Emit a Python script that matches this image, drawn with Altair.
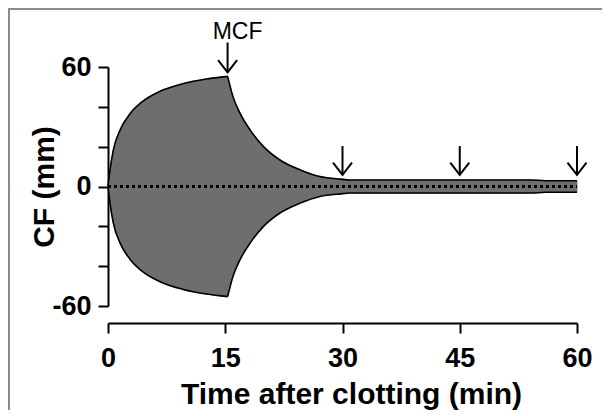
import altair as alt
import pandas as pd

# ---- data ----
rise_time = [0, 0.26, 0.68, 1.54, 2.81, 4.52, 6.65, 9.63, 12.6, 15.3]
rise_amp = [0, 8.3, 18.3, 28.3, 36.5, 43.0, 47.8, 51.7, 54.0, 55.3]
fall_time = [15.3, 16.0, 16.9, 18.2, 19.9, 22.0, 24.6, 27.1, 29.7, 31.0, 40.0, 54.0, 56.0, 60.0]
fall_amp = [55.3, 45.0, 36.7, 28.3, 20.0, 13.3, 8.3, 5.0, 3.7, 3.3, 3.3, 3.3, 2.9, 2.9]

arrow_time = [15.3, 30, 45, 60]
arrow_tip = [57.3, 5.8, 5.8, 5.8]
arrow_top = [72.3, 20.3, 20.3, 20.3]

label_text = ["MCF"]
label_time = [15.3]
label_v = [74.3]

x_ticks = [0, 15, 30, 45, 60]
y_ticks = [-60, -40, -20, 0, 20, 40, 60]

FONT = "Liberation Sans"

# ---- tables ----
area_rows, line_rows = [], []
for seg, (ts, vs) in enumerate([(rise_time, rise_amp), (fall_time, fall_amp)]):
    for t, v in zip(ts, vs):
        area_rows.append({"t": t, "v": v, "v2": -v, "seg": seg})
        line_rows.append({"t": t, "v": v, "seg": f"u{seg}"})
        line_rows.append({"t": t, "v": -v, "seg": f"l{seg}"})
area_df = pd.DataFrame(area_rows)
line_df = pd.DataFrame(line_rows)
zero_df = pd.DataFrame({"t": [x_ticks[0]], "t2": [x_ticks[-1]], "v": [0]})
arrow_df = pd.DataFrame({"t": arrow_time, "v": arrow_tip, "v2": arrow_top})
label_df = pd.DataFrame({"t": label_time, "v": label_v, "txt": label_text})
frame_df = pd.DataFrame({"a": [0]})

x_axis = alt.Axis(
    values=x_ticks, title="Time after clotting (min)", offset=17, grid=False,
    tickSize=10, tickWidth=2, tickColor="black", domainWidth=2, domainColor="black",
    labelFont=FONT, labelFontWeight="bold", labelFontSize=27, labelColor="black",
    labelPadding=12, labelFlush=False, labelOverlap=False,
    titleFont=FONT, titleFontWeight="bold", titleFontSize=30, titleColor="black",
    titleX=243, titleY=80, titleBaseline="alphabetic", titleAlign="center",
)
y_axis = alt.Axis(
    values=y_ticks, title="CF (mm)", grid=False,
    labelExpr="abs(datum.value) % 60 == 0 ? '' + datum.value : ''",
    tickSize=10, tickWidth=2, tickColor="black", domainWidth=2, domainColor="black",
    labelFont=FONT, labelFontWeight="bold", labelFontSize=27, labelColor="black",
    labelPadding=7, labelOverlap=False,
    titleFont=FONT, titleFontWeight="bold", titleFontSize=30, titleColor="black",
    titleX=-55, titleY=119.5, titleAngle=270, titleBaseline="alphabetic", titleAlign="center",
)
xs = alt.Scale(domain=[0, 60], nice=False)
ys = alt.Scale(domain=[-60, 60], nice=False)
X = alt.X("t:Q", scale=xs, axis=x_axis, title="Time after clotting (min)")
Y = alt.Y("v:Q", scale=ys, axis=y_axis, title="CF (mm)")

area = alt.Chart(area_df).mark_area(
    color="#6e6e6e", stroke="#6e6e6e", strokeWidth=0.8, interpolate="monotone"
).encode(x=X, y=Y, y2="v2:Q", detail="seg:N")

outline = alt.Chart(line_df).mark_line(
    color="black", strokeWidth=1.6, interpolate="monotone"
).encode(x=X, y=Y, detail="seg:N")

zero = alt.Chart(zero_df).mark_rule(
    color="black", strokeWidth=3, strokeDash=[3, 3]
).encode(x=X, x2="t2:Q", y=Y)

shafts = alt.Chart(arrow_df).mark_rule(color="black", strokeWidth=2).encode(
    x=X, y=Y, y2="v2:Q"
)
heads = alt.Chart(arrow_df).mark_point(
    shape="M-1,-1.3L0,0L1,-1.3", size=361, filled=False, stroke="black",
    strokeWidth=2, opacity=1
).encode(x=X, y=Y)

label = alt.Chart(label_df).mark_text(
    font=FONT, fontSize=23, color="black", dx=10, baseline="alphabetic", align="center"
).encode(x=X, y=Y, text="txt:N")

frame_left = alt.Chart(frame_df).mark_rule(color="#8c8c8c", strokeWidth=2).encode(
    x=alt.value(-99), y=alt.value(-59), y2=alt.value(343)
)
frame_top = alt.Chart(frame_df).mark_rule(color="#8c8c8c", strokeWidth=2).encode(
    x=alt.value(-100), x2=alt.value(494), y=alt.value(-58)
)

chart = alt.layer(
    frame_left, frame_top, area, outline, zero, shafts, heads, label
).properties(
    width=469, height=239,
    autosize=alt.AutoSizeParams(type="none"),
    padding={"left": 100, "top": 59, "right": 25, "bottom": 104},
).configure_view(strokeWidth=0)

chart.save("out.html", embed_options={"renderer": "svg", "actions": False})
